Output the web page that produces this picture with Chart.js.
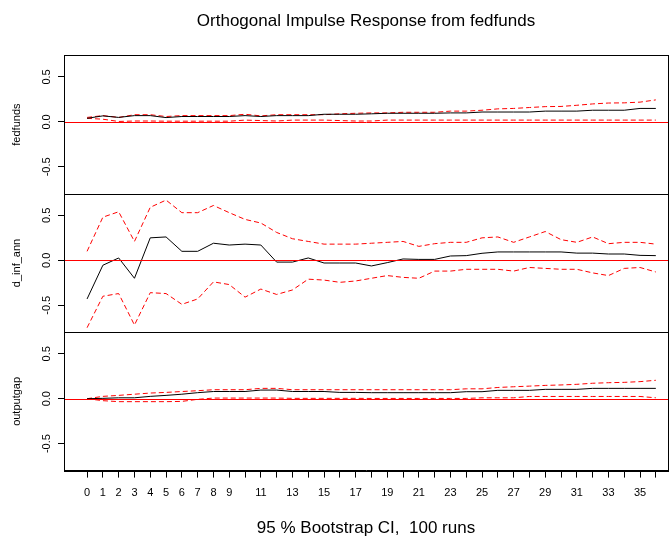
<!DOCTYPE html>
<html>
<head>
<meta charset="utf-8">
<title>Orthogonal Impulse Response from fedfunds</title>
<script src="https://cdn.jsdelivr.net/npm/chart.js@4/dist/chart.umd.min.js"></script>
<style>
  html, body { margin: 0; padding: 0; background: #fff; overflow: hidden; }
  #wrap { width: 670px; height: 543px; position: relative; }
</style>
</head>
<body>
<div id="wrap"><canvas id="chart"></canvas></div>
<script>
// impulse horizons 0..36
const horizons = Array.from({ length: 37 }, (_, i) => i);
// horizon labels that get printed under the ticks
const shownLabels = [0, 1, 2, 3, 4, 5, 6, 7, 8, 9, 11, 13, 15, 17, 19, 21, 23, 25, 27, 29, 31, 33, 35];
// y ticks shared by all three panels
const yTicks = [-0.5, 0, 0.5];

// response of fedfunds
const fedfundsIrf = [0.04, 0.067, 0.05, 0.07, 0.07, 0.048, 0.06, 0.06, 0.06, 0.06, 0.07, 0.06, 0.07, 0.07, 0.07, 0.085, 0.085, 0.085, 0.09, 0.096, 0.096, 0.096, 0.096, 0.10, 0.10, 0.11, 0.11, 0.11, 0.11, 0.12, 0.12, 0.12, 0.13, 0.13, 0.13, 0.15, 0.15];
const fedfundsUpper = [0.05, 0.07, 0.05, 0.08, 0.08, 0.06, 0.07, 0.07, 0.07, 0.07, 0.085, 0.067, 0.08, 0.08, 0.08, 0.08, 0.09, 0.096, 0.10, 0.10, 0.107, 0.107, 0.107, 0.12, 0.12, 0.13, 0.145, 0.15, 0.16, 0.17, 0.172, 0.185, 0.20, 0.21, 0.212, 0.22, 0.245];
const fedfundsLower = [0.04, 0.03, 0.005, 0.01, 0.01, 0.008, 0.008, 0.008, 0.008, 0.008, 0.02, 0.015, 0.01, 0.02, 0.02, 0.02, 0.015, 0.01, 0.01, 0.02, 0.02, 0.02, 0.02, 0.02, 0.02, 0.02, 0.02, 0.02, 0.02, 0.02, 0.02, 0.02, 0.02, 0.02, 0.02, 0.02, 0.02];

// response of d_inf_ann
const infIrf = [-0.43, -0.055, 0.026, -0.20, 0.25, 0.26, 0.10, 0.10, 0.19, 0.17, 0.18, 0.17, -0.02, -0.02, 0.026, -0.03, -0.03, -0.03, -0.063, -0.026, 0.015, 0.01, 0.01, 0.048, 0.052, 0.078, 0.093, 0.093, 0.093, 0.093, 0.093, 0.08, 0.08, 0.07, 0.07, 0.055, 0.052];
const infUpper = [0.10, 0.48, 0.54, 0.21, 0.59, 0.67, 0.53, 0.53, 0.61, 0.53, 0.455, 0.415, 0.31, 0.24, 0.21, 0.18, 0.18, 0.18, 0.19, 0.20, 0.21, 0.155, 0.185, 0.20, 0.20, 0.25, 0.26, 0.20, 0.26, 0.32, 0.23, 0.20, 0.26, 0.185, 0.20, 0.20, 0.18];
const infLower = [-0.75, -0.40, -0.37, -0.72, -0.36, -0.37, -0.49, -0.43, -0.24, -0.27, -0.41, -0.32, -0.38, -0.33, -0.21, -0.22, -0.245, -0.23, -0.20, -0.17, -0.19, -0.20, -0.12, -0.12, -0.10, -0.10, -0.10, -0.12, -0.08, -0.09, -0.10, -0.10, -0.14, -0.17, -0.09, -0.08, -0.13];

// response of outputgap
const gapIrf = [0, 0.004, 0.01, 0.01, 0.026, 0.037, 0.05, 0.067, 0.08, 0.08, 0.08, 0.096, 0.096, 0.08, 0.08, 0.08, 0.07, 0.07, 0.067, 0.067, 0.067, 0.067, 0.067, 0.067, 0.078, 0.078, 0.093, 0.093, 0.093, 0.104, 0.104, 0.104, 0.115, 0.115, 0.115, 0.115, 0.115];
const gapUpper = [0, 0.026, 0.037, 0.05, 0.063, 0.07, 0.08, 0.089, 0.1, 0.1, 0.1, 0.115, 0.115, 0.1, 0.1, 0.1, 0.1, 0.1, 0.1, 0.1, 0.1, 0.1, 0.1, 0.1, 0.11, 0.11, 0.125, 0.133, 0.14, 0.148, 0.153, 0.16, 0.172, 0.178, 0.182, 0.19, 0.205];
const gapLower = [0, -0.022, -0.033, -0.033, -0.033, -0.033, -0.03, -0.007, 0.007, 0.007, 0.007, 0.007, 0.007, 0.004, 0.004, 0.004, 0.004, 0.004, 0.003, 0.003, 0.003, 0.003, 0.003, 0.003, 0.003, 0.01, 0.01, 0.01, 0.025, 0.025, 0.025, 0.025, 0.025, 0.025, 0.025, 0.025, 0.01];

// panels, listed bottom to top (the layout stacks the last one on top)
const panels = [
    { id: 'yGap', name: 'outputgap', irf: gapIrf, upper: gapUpper, lower: gapLower },
    { id: 'yInf', name: 'd_inf_ann', irf: infIrf, upper: infUpper, lower: infLower },
    { id: 'yFed', name: 'fedfunds', irf: fedfundsIrf, upper: fedfundsUpper, lower: fedfundsLower }
];

const FONT = 'Liberation Sans, Arial, sans-serif';

// each panel gets a black irf line and two red dashed bands
const datasets = [];
panels.forEach(p => {
    datasets.push({ data: p.irf, yAxisID: p.id, borderColor: '#000', borderWidth: 1 });
    datasets.push({ data: p.upper, yAxisID: p.id, borderColor: '#ff0000', borderWidth: 1, borderDash: [5, 3] });
    datasets.push({ data: p.lower, yAxisID: p.id, borderColor: '#ff0000', borderWidth: 1, borderDash: [5, 3] });
});

const scales = {
    x: {
        type: 'linear',
        min: -1.46,
        max: 36.77,
        afterBuildTicks: s => { s.ticks = horizons.map(v => ({ value: v })); },
        afterFit: s => { s.height = 40; },
        grid: { drawOnChartArea: false, tickLength: 7, color: '#000' },
        border: { color: '#000' },
        ticks: {
            autoSkip: false, maxRotation: 0, padding: 9, color: '#000',
            font: { family: FONT, size: 11 },
            callback: v => shownLabels.includes(v) ? String(v) : ''
        }
    }
};
panels.forEach(p => {
    scales[p.id] = {
        type: 'linear',
        position: 'left',
        stack: 'irf',
        stackWeight: 1,
        min: -0.80,
        max: 0.74,
        afterBuildTicks: s => { s.ticks = yTicks.map(v => ({ value: v })); },
        afterFit: s => { s.width = 64; },
        grid: { drawOnChartArea: false, tickLength: 6, color: '#000' },
        border: { color: '#000' },
        ticks: {
            minRotation: 90, maxRotation: 90, crossAlign: 'center', padding: 2, color: '#000',
            font: { family: FONT, size: 11 },
            callback: v => v.toFixed(1)
        },
        title: {
            display: true, text: p.name, color: '#000',
            font: { family: FONT, size: 11 },
            padding: { top: 10, bottom: 0 }
        }
    };
});

// boxes round the panels, then the red zero line in each
const panelFrames = {
    id: 'panelFrames',
    afterDraw(chart) {
        const { ctx, chartArea } = chart;
        const left = Math.round(chartArea.left) + 0.5;
        const right = Math.round(chartArea.right) + 0.5;
        ctx.save();
        ctx.lineWidth = 1;
        ctx.strokeStyle = '#000';
        panels.forEach(p => {
            const s = chart.scales[p.id];
            const top = Math.round(s.top) + 0.5;
            const bottom = Math.round(s.bottom) + 0.5;
            ctx.strokeRect(left, top, right - left, bottom - top);
        });
        ctx.strokeStyle = '#ff0000';
        panels.forEach(p => {
            const y = Math.round(chart.scales[p.id].getPixelForValue(0)) + 0.5;
            ctx.beginPath();
            ctx.moveTo(left + 0.5, y);
            ctx.lineTo(right - 0.5, y);
            ctx.stroke();
        });
        ctx.restore();
    }
};

const ctx = document.getElementById('chart').getContext('2d');
const chart = new Chart(ctx, {
    type: 'line',
    data: { labels: horizons, datasets: datasets },
    options: {
        responsive: true,
        maintainAspectRatio: false,
        animation: false,
        elements: { point: { radius: 0 }, line: { tension: 0 } },
        layout: { padding: { left: 0, right: 2, top: 0, bottom: 0 } },
        scales: scales,
        plugins: {
            legend: { display: false },
            tooltip: { enabled: false },
            title: {
                display: true, fullSize: false,
                text: 'Orthogonal Impulse Response from fedfunds',
                color: '#000',
                font: { family: FONT, size: 17, weight: 'normal' },
                padding: { top: 11, bottom: 24 }
            },
            subtitle: {
                display: true, fullSize: false, position: 'bottom',
                text: '95 % Bootstrap CI,  100 runs',
                color: '#000',
                font: { family: FONT, size: 17, weight: 'normal' },
                padding: { top: 8, bottom: 4 }
            }
        }
    },
    plugins: [panelFrames]
});
</script>
</body>
</html>
